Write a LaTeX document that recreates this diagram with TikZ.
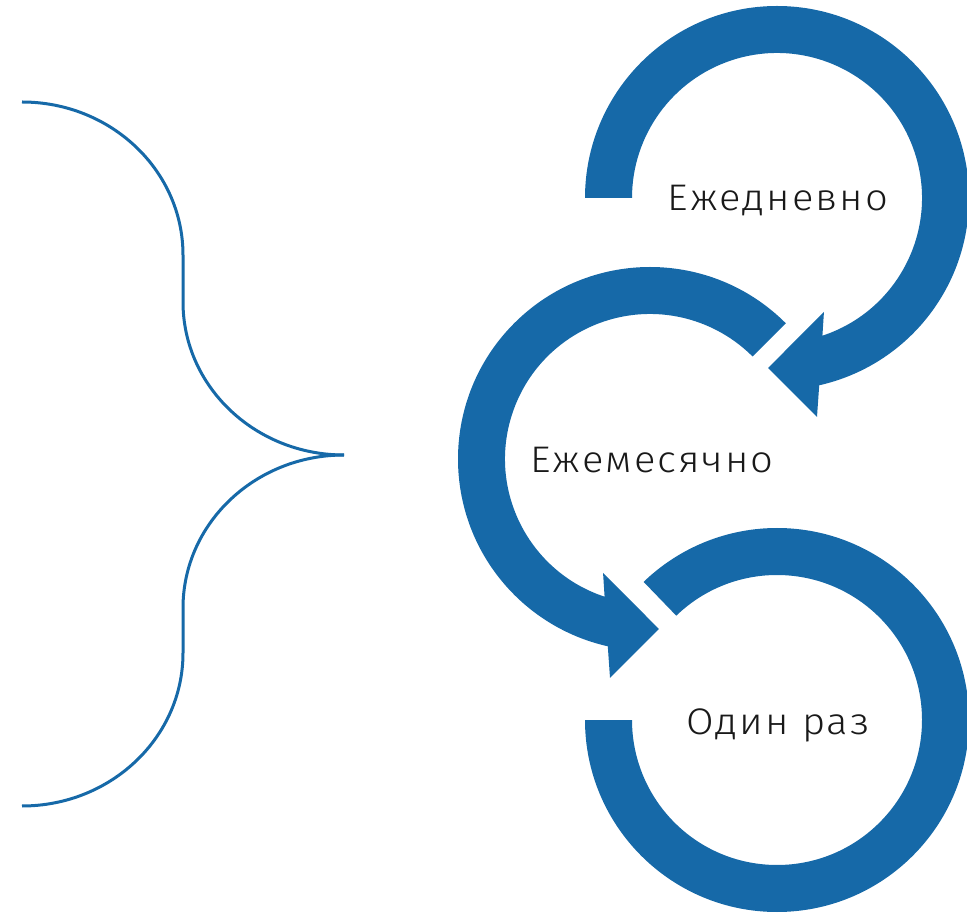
\documentclass[tikz,border=0pt]{standalone}
\usepackage{fontspec}
\setmainfont{Fira Sans Light}[LetterSpace=5]
\definecolor{cblue}{RGB}{22,105,168}
\begin{document}
\begin{tikzpicture}[x=1pt,y=1pt,
  ring/.style={fill=cblue, draw=none},
  lbl/.style={font=\fontsize{37}{40}\selectfont, text=black!90, anchor=base, inner sep=0pt, xscale=1.08, transform shape},
  bracestyle/.style={draw=cblue, line width=3pt}]
\useasboundingbox (0,0) rectangle (967,914);
% brace
\draw[bracestyle] (22,812) arc[start angle=90,end angle=0,x radius=161,y radius=153]
  -- (183,612) arc[start angle=180,end angle=270,x radius=161,y radius=153];
\draw[bracestyle] (344,459) arc[start angle=90,end angle=180,x radius=161,y radius=153]
  -- (183,261) arc[start angle=0,end angle=-90,x radius=161,y radius=153];
% ring 1 (clockwise, arrow)
\fill[ring, shift={(777,716)}] (180:192) arc[start angle=180,end angle=-77.3,radius=192]
  -- (-79.65:222.6) -- (-93:170.2) -- (-67.6:123.2) -- (-71.75:145)
  arc[start angle=-71.75,end angle=180,radius=145] -- cycle;
% ring 2 (counter-clockwise, arrow)
\fill[ring, shift={(650,455)}] (45:192) arc[start angle=45,end angle=257.3,radius=192]
  -- (259.65:222.6) -- (273:170.2) -- (247.6:123.2) -- (251.75:145)
  arc[start angle=251.75,end angle=45,radius=145] -- cycle;
% ring 3
\fill[ring, shift={(777,194)}] (180:192) arc[start angle=180,end angle=494,radius=192]
  -- (134:145) arc[start angle=134,end angle=-180,radius=145] -- cycle;
% labels
\node[lbl] (daily) at (778,703) {Ежедневно};
\node[lbl] (monthly) at (652,441) {Ежемесячно};
\node[lbl] (once) at (778,179) {Один раз};
\end{tikzpicture}
\end{document}
